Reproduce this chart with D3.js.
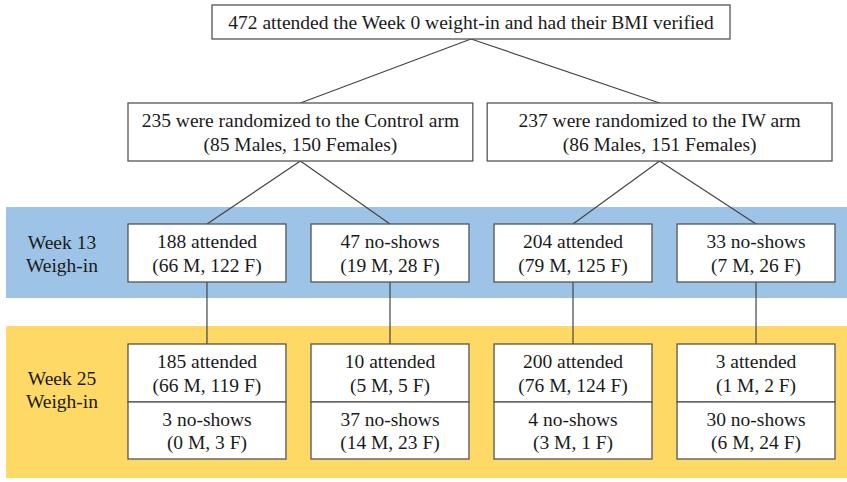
<!DOCTYPE html>
<html>
<head>
<meta charset="utf-8">
<script src="https://cdn.jsdelivr.net/npm/d3@7"></script>
<style>
  body { margin: 0; background: #fff; }
  svg { display: block; }
</style>
</head>
<body>
<svg width="847" height="482"></svg>
<script>
var enrolled = 472;
var arms = ["Control", "IW"];
var armMales = [85, 86],
    armFemales = [150, 151];

// week 13, columns: Control attended, Control no-shows, IW attended, IW no-shows
var wk13Labels = ["attended", "no-shows", "attended", "no-shows"],
    wk13Males = [66, 19, 79, 7],
    wk13Females = [122, 28, 125, 26];

// week 25, for each week 13 column
var wk25AttMales = [66, 5, 76, 1],
    wk25AttFemales = [119, 5, 124, 2],
    wk25NoMales = [0, 14, 3, 6],
    wk25NoFemales = [3, 23, 1, 24];

var bandLabels = [["Week 13", "Weigh-in"], ["Week 25", "Weigh-in"]];

var FONT = "'Liberation Serif', 'Times New Roman', Times, 'DejaVu Serif', serif";
var FS = 19.5;
var svg = d3.select("svg");
var lineH = 23.5;

// layout
var armX = d3.scaleBand().domain(d3.range(2)).range([128, 832]).paddingInner(0.04);
var colX = d3.scaleBand().domain(d3.range(4)).range([128, 835]).paddingInner(0.137);

var topBox = {x: 212, y: 5, w: 518, h: 34};
var armY = 103, armH = 58;
var w13Y = 224, w13H = 58;
var w25Y = 344, w25H = 115, w25Mid = 402;

// bands
svg.append("rect").attr("x", 6).attr("y", 207).attr("width", 841).attr("height", 91).attr("fill", "#9dc3e6");
svg.append("rect").attr("x", 6).attr("y", 326).attr("width", 841).attr("height", 152).attr("fill", "#ffd966");

svg.selectAll("text.band")
  .data(bandLabels)
  .enter().append("text")
    .attr("class", "band")
    .attr("x", 62)
    .attr("y", function(d, i){ return i == 0 ? 242 : 378; })
    .attr("text-anchor", "middle")
    .attr("font-family", FONT)
    .attr("font-size", FS)
    .attr("fill", "#1a1a1a")
    .selectAll("tspan")
    .data(function(d){ return d; })
    .enter().append("tspan")
      .attr("x", 62)
      .attr("dy", function(d, i){ return i == 0 ? "0.35em" : lineH; })
      .text(function(d){ return d; });

// connectors
var links = svg.append("g").attr("stroke", "#444").attr("stroke-width", 1.2).attr("fill", "none");
var topCx = topBox.x + topBox.w / 2;
arms.forEach(function(a, i){
  var cx = armX(i) + armX.bandwidth() / 2;
  links.append("line").attr("x1", topCx).attr("y1", topBox.y + topBox.h).attr("x2", cx).attr("y2", armY);
  [0, 1].forEach(function(j){
    var c = i * 2 + j;
    var ccx = colX(c) + colX.bandwidth() / 2;
    links.append("line").attr("x1", cx).attr("y1", armY + armH).attr("x2", ccx).attr("y2", w13Y);
  });
});
d3.range(4).forEach(function(c){
  var ccx = colX(c) + colX.bandwidth() / 2;
  links.append("line").attr("x1", ccx).attr("y1", w13Y + w13H).attr("x2", ccx).attr("y2", w25Y);
});

function box(x, y, w, h, lines) {
  svg.append("rect")
    .attr("x", x).attr("y", y).attr("width", w).attr("height", h)
    .attr("fill", "#fff").attr("stroke", "#555").attr("stroke-width", 1.3);
  var cy = y + h / 2 - (lines.length - 1) * lineH / 2;
  var t = svg.append("text")
    .attr("text-anchor", "middle")
    .attr("font-family", FONT)
    .attr("font-size", FS)
    .attr("fill", "#1a1a1a");
  lines.forEach(function(s, k){
    t.append("tspan").attr("x", x + w / 2).attr("y", cy + k * lineH).attr("dy", "0.35em").text(s);
  });
}

box(topBox.x, topBox.y, topBox.w, topBox.h,
  [enrolled + " attended the Week 0 weight-in and had their BMI verified"]);

arms.forEach(function(a, i){
  box(armX(i), armY, armX.bandwidth(), armH,
    [(armMales[i] + armFemales[i]) + " were randomized to the " + a + " arm",
     "(" + armMales[i] + " Males, " + armFemales[i] + " Females)"]);
});

d3.range(4).forEach(function(c){
  box(colX(c), w13Y, colX.bandwidth(), w13H,
    [(wk13Males[c] + wk13Females[c]) + " " + wk13Labels[c],
     "(" + wk13Males[c] + " M, " + wk13Females[c] + " F)"]);
  box(colX(c), w25Y, colX.bandwidth(), w25Mid - w25Y,
    [(wk25AttMales[c] + wk25AttFemales[c]) + " attended",
     "(" + wk25AttMales[c] + " M, " + wk25AttFemales[c] + " F)"]);
  box(colX(c), w25Mid, colX.bandwidth(), w25Y + w25H - w25Mid,
    [(wk25NoMales[c] + wk25NoFemales[c]) + " no-shows",
     "(" + wk25NoMales[c] + " M, " + wk25NoFemales[c] + " F)"]);
});
</script>
</body>
</html>
